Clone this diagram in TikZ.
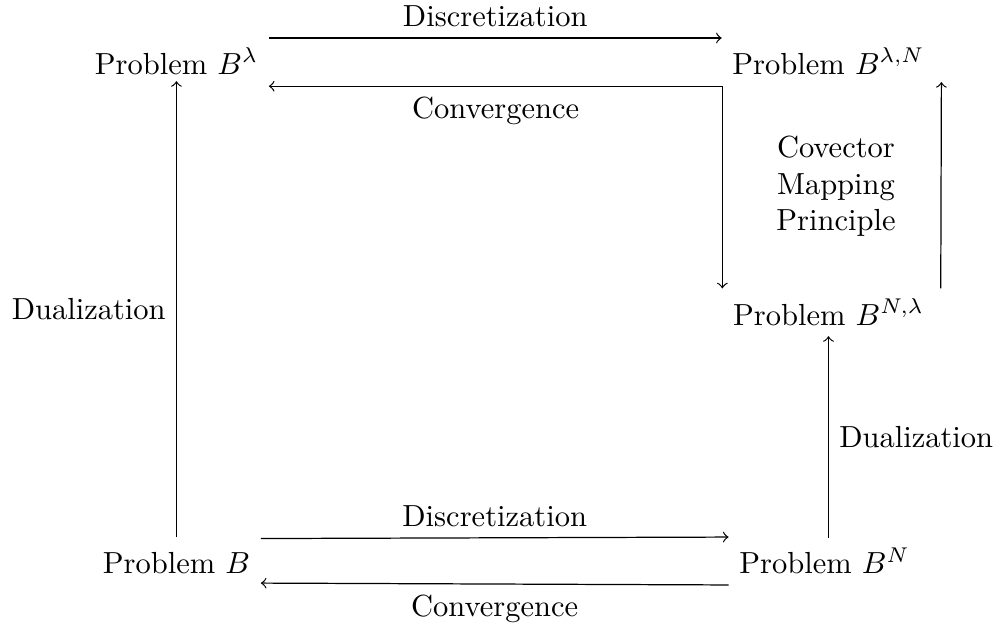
\documentclass[tikz,border=0pt]{standalone}
\begin{document}
\begin{tikzpicture}
\useasboundingbox (0,0) rectangle (11.521,7.224);
\path (2.033,6.371)
    node (pbl) [anchor=base] {Problem $B^\lambda$} (9.545,6.371)
    node (pbln) [anchor=base] {Problem $B^{\lambda,N}$} (9.545,3.479)
    node (pbnl) [anchor=base] {Problem $B^{N,\lambda}$} (2.033,0.622)
    node (pb) [anchor=base] {Problem $B$} (9.499,0.611)
    node (pbn) [anchor=base] {Problem $B^N$};

\draw[->] ([yshift=11.8pt]pbl.base east) -- node [above] {Discretization}
    ([yshift=11.8pt]pbln.base west);
\draw[<->] ([yshift=-4pt]pbl.base east) -| node [pos=.25,below] {Convergence}
    (pbnl.north west);
\draw[->] ([xshift=2pt]pbnl.north east) -- ([xshift=2pt,yshift=1pt]pbln.south east);
\node (cmp) [align=center] at (9.631,5.075) {Covector\\Mapping\\Principle};

\draw[->] (pbnl.south |- pbn.north) -- node [right] {Dualization} (pbnl.south);
\draw[->] ([yshift=1.3pt]pb.north) -- node [left] {Dualization}
    ([yshift=1.3pt]pbl.south);

\draw[->] ([yshift=11.3pt]pb.base east) -- node [above] {Discretization}
    ([yshift=12.1pt]pbn.base west);
\draw[->] ([yshift=-3.6pt]pbn.base west) -- node [below] {Convergence}
    ([yshift=-3.3pt]pb.base east);
\end{tikzpicture}
\end{document}
